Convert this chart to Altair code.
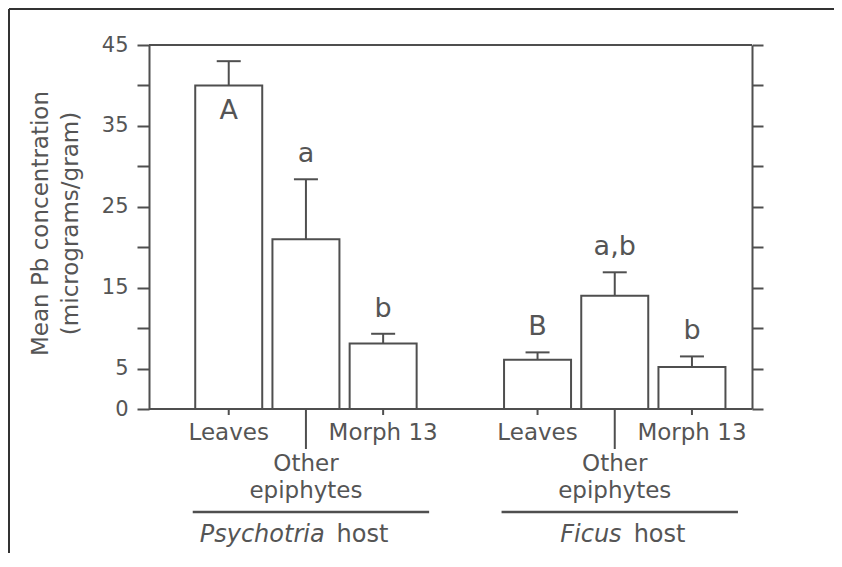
import altair as alt
import pandas as pd

# ---- data ----
hosts = ["Psychotria", "Ficus"]
parts = ["Leaves", "Other\nepiphytes", "Morph 13"]
means = [40.0, 21.0, 8.1, 6.1, 14.0, 5.2]      # mean Pb concentration
ses = [3.0, 7.4, 1.2, 0.9, 2.9, 1.3]           # error bar (upper) length
letters = ["A", "a", "b", "B", "a,b", "b"]
y_ticks = [0, 5, 10, 15, 20, 25, 30, 35, 40, 45]

LINE = "#4f4f4f"
TEXT = "#555555"
FONT = "DejaVu Sans"

rows = []
for h_i, h in enumerate(hosts):
    for p_i, p in enumerate(parts):
        k = h_i * 3 + p_i
        rows.append(dict(host=h, part=p, part_index=p_i, slot=h_i * 4 + p_i,
                         mean=means[k], hi=means[k] + ses[k], letter=letters[k]))
df = pd.DataFrame(rows)
grp = pd.DataFrame([dict(genus=h, first=i * 4, last=i * 4 + 2, mid=i * 4 + 1)
                    for i, h in enumerate(hosts)])

W, H = 603, 364
xs = alt.Scale(domain=[-0.968, 6.713], nice=False, zero=False)
ys = alt.Scale(domain=[0, 45], nice=False, zero=True)
X = alt.X("slot:Q", scale=xs, axis=None)

base = alt.Chart(df)

left_axis = alt.Axis(
    values=y_ticks,
    labelExpr="datum.value == 0 || datum.value % 10 == 5 ? datum.label : ''",
    tickSize=12, labelPadding=9, labelFontSize=21, labelFont=FONT,
    labelColor=TEXT, domainColor=LINE, domainWidth=2, tickColor=LINE,
    tickWidth=2, grid=False,
    title=["Mean Pb concentration", "(micrograms/gram)"],
    titleFont=FONT, titleFontSize=23, titleFontWeight="normal",
    titleColor=TEXT, titleAngle=270, titleX=-120, titleY=178,
    titleAlign="center", titleBaseline="top", titleLineHeight=30,
)
right_axis = alt.Axis(
    orient="right", values=y_ticks, labels=False, tickSize=11,
    domainColor=LINE, domainWidth=2, tickColor=LINE, tickWidth=2,
    grid=False, title=None,
)

bars = base.mark_bar(size=67, fill="white", stroke=LINE, strokeWidth=2).encode(
    x=X, y=alt.Y("mean:Q", scale=ys, axis=left_axis)
)
right = base.mark_bar(size=67, opacity=0).encode(
    x=X, y=alt.Y("mean:Q", scale=ys, axis=right_axis)
)
err = base.mark_rule(color=LINE, strokeWidth=2).encode(
    x=X, y=alt.Y("mean:Q", scale=ys, axis=None), y2="hi:Q"
)
cap = base.mark_rule(color=LINE, strokeWidth=2, xOffset=-12, x2Offset=12).encode(
    x=X, x2="slot:Q", y=alt.Y("hi:Q", scale=ys, axis=None)
)
lab_above = base.transform_filter("datum.letter !== 'A'").mark_text(
    font=FONT, fontSize=27, color=TEXT, baseline="middle", dy=-25
).encode(x=X, y=alt.Y("hi:Q", scale=ys, axis=None), text="letter:N")
lab_inside = base.transform_filter("datum.letter === 'A'").mark_text(
    font=FONT, fontSize=27, color=TEXT, baseline="middle", dy=26
).encode(x=X, y=alt.Y("mean:Q", scale=ys, axis=None), text="letter:N")

frame_plot_top = base.mark_rule(color=LINE, strokeWidth=2).encode(
    x=alt.value(0), x2=alt.value(W), y=alt.value(0)
)
frame_plot_bottom = base.mark_rule(color=LINE, strokeWidth=2).encode(
    x=alt.value(0), x2=alt.value(W), y=alt.value(H)
)

small_ticks = base.transform_filter("datum.part_index != 1").mark_rule(
    color=LINE, strokeWidth=2
).encode(x=X, y=alt.value(H), y2=alt.value(H + 6))
long_ticks = base.transform_filter("datum.part_index == 1").mark_rule(
    color=LINE, strokeWidth=2
).encode(x=X, y=alt.value(H), y2=alt.value(H + 40))

cat_top = base.transform_filter("datum.part_index != 1").mark_text(
    font=FONT, fontSize=23, color=TEXT, baseline="alphabetic"
).encode(x=X, y=alt.value(395), text="part:N")
cat_low = base.transform_filter("datum.part_index == 1").mark_text(
    font=FONT, fontSize=23, color=TEXT, baseline="alphabetic",
    lineBreak="\n", lineHeight=27
).encode(x=X, y=alt.value(426), text="part:N")

g = alt.Chart(grp)
underline = g.mark_rule(color=LINE, strokeWidth=2.5, xOffset=-36, x2Offset=46).encode(
    x=alt.X("first:Q", scale=xs, axis=None), x2="last:Q", y=alt.value(467)
)
g2 = g.transform_calculate(
    split="datum.mid + (length(datum.genus) * 4.8 - 10) / 2 / 78.5",
    word="'host'",
)
genus_txt = g2.mark_text(
    font=FONT, fontSize=24, fontStyle="italic", color=TEXT,
    align="right", baseline="alphabetic"
).encode(x=alt.X("split:Q", scale=xs, axis=None), y=alt.value(497), text="genus:N")
host_txt = g2.mark_text(
    font=FONT, fontSize=24, color=TEXT, align="left", baseline="alphabetic", dx=12
).encode(x=alt.X("split:Q", scale=xs, axis=None), y=alt.value(497), text="word:N")

frame_left = base.mark_rule(color="#333333", strokeWidth=1.5).encode(
    x=alt.value(-140), y=alt.value(-36), y2=alt.value(520)
)
frame_top = base.mark_rule(color="#333333", strokeWidth=1.5).encode(
    x=alt.value(-140), x2=alt.value(700), y=alt.value(-36)
)

chart = alt.layer(
    bars, right, err, cap, lab_above, lab_inside, frame_plot_top,
    frame_plot_bottom, small_ticks, long_ticks,
    cat_top, cat_low, underline, genus_txt, host_txt, frame_left, frame_top
).resolve_axis(y="independent").properties(
    width=W, height=H, autosize="none",
    padding={"left": 141, "top": 37, "right": 82, "bottom": 144},
).configure_view(strokeWidth=0, stroke=None).configure(background="white")

chart.save("out.html", embed_options={"renderer": "svg", "actions": False})
